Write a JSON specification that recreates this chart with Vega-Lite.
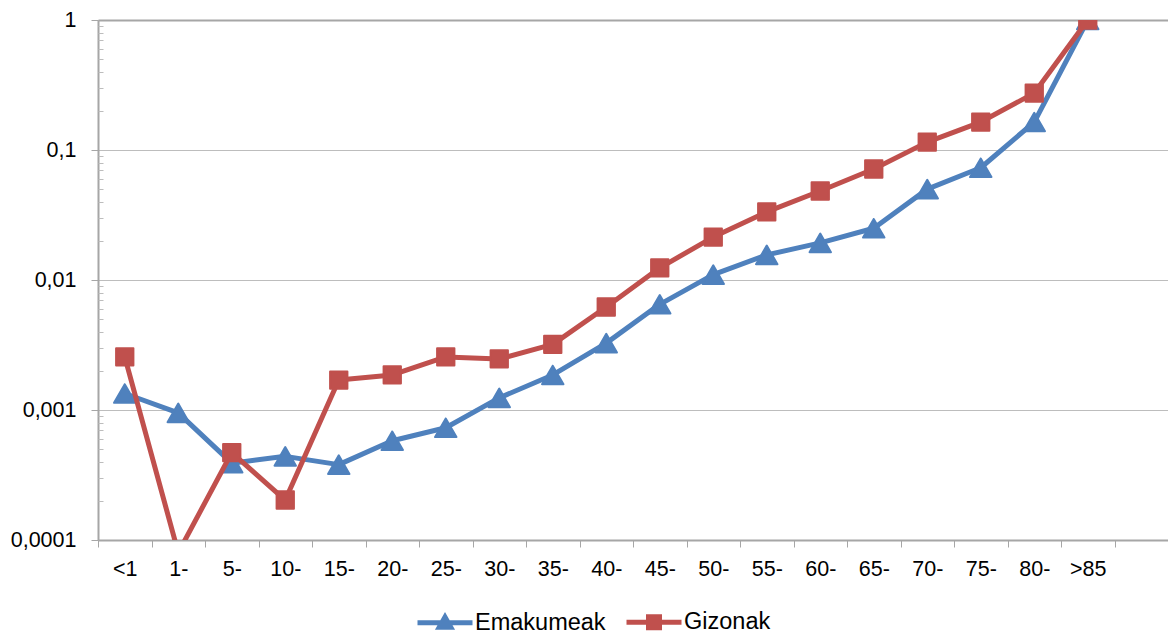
{
  "$schema": "https://vega.github.io/schema/vega-lite/v6.json",
  "width": 1070,
  "height": 520,
  "autosize": {"type": "none"},
  "padding": {"left": 98, "top": 20, "right": 0, "bottom": 99},
  "background": "white",
  "config": {"view": {"stroke": null}, "font": "Liberation Sans"},
  "data": {
    "values": [
      {"age": "<1", "series": "Emakumeak", "value": 0.00134},
      {"age": "1-", "series": "Emakumeak", "value": 0.00095},
      {"age": "5-", "series": "Emakumeak", "value": 0.00039},
      {"age": "10-", "series": "Emakumeak", "value": 0.00044},
      {"age": "15-", "series": "Emakumeak", "value": 0.00038},
      {"age": "20-", "series": "Emakumeak", "value": 0.00058},
      {"age": "25-", "series": "Emakumeak", "value": 0.00073},
      {"age": "30-", "series": "Emakumeak", "value": 0.00124},
      {"age": "35-", "series": "Emakumeak", "value": 0.00186},
      {"age": "40-", "series": "Emakumeak", "value": 0.00327},
      {"age": "45-", "series": "Emakumeak", "value": 0.0065},
      {"age": "50-", "series": "Emakumeak", "value": 0.011},
      {"age": "55-", "series": "Emakumeak", "value": 0.0156},
      {"age": "60-", "series": "Emakumeak", "value": 0.0193},
      {"age": "65-", "series": "Emakumeak", "value": 0.025},
      {"age": "70-", "series": "Emakumeak", "value": 0.05},
      {"age": "75-", "series": "Emakumeak", "value": 0.073},
      {"age": "80-", "series": "Emakumeak", "value": 0.164},
      {"age": ">85", "series": "Emakumeak", "value": 1},
      {"age": "<1", "series": "Gizonak", "value": 0.00256},
      {"age": "1-", "series": "Gizonak", "value": 0.00008},
      {"age": "5-", "series": "Gizonak", "value": 0.00047},
      {"age": "10-", "series": "Gizonak", "value": 0.000203},
      {"age": "15-", "series": "Gizonak", "value": 0.0017},
      {"age": "20-", "series": "Gizonak", "value": 0.00186},
      {"age": "25-", "series": "Gizonak", "value": 0.00256},
      {"age": "30-", "series": "Gizonak", "value": 0.00247},
      {"age": "35-", "series": "Gizonak", "value": 0.0032},
      {"age": "40-", "series": "Gizonak", "value": 0.0062},
      {"age": "45-", "series": "Gizonak", "value": 0.0124},
      {"age": "50-", "series": "Gizonak", "value": 0.0214},
      {"age": "55-", "series": "Gizonak", "value": 0.0334},
      {"age": "60-", "series": "Gizonak", "value": 0.0484},
      {"age": "65-", "series": "Gizonak", "value": 0.0714},
      {"age": "70-", "series": "Gizonak", "value": 0.115},
      {"age": "75-", "series": "Gizonak", "value": 0.164},
      {"age": "80-", "series": "Gizonak", "value": 0.274},
      {"age": ">85", "series": "Gizonak", "value": 1}
    ]
  },
  "encoding": {
    "x": {
      "field": "age", "type": "nominal",
      "scale": {
        "domain": ["<1","1-","5-","10-","15-","20-","25-","30-","35-","40-","45-","50-","55-","60-","65-","70-","75-","80-",">85"],
        "paddingInner": 0, "paddingOuter": 0.5, "align": 0
      },
      "axis": {
        "title": null, "labelAngle": 0, "labelFontSize": 21.5, "labelColor": "#000000",
        "labelFont": "Liberation Sans", "labelPadding": 11,
        "tickBand": "extent", "tickSize": 7, "tickColor": "#A6A6A6", "tickWidth": 1,
        "domainColor": "#A6A6A6", "domainWidth": 2, "grid": false
      }
    },
    "y": {"field": "value", "type": "quantitative", "scale": {"type": "log", "domain": [0.0001, 1]}, "axis": null}
  },
  "layer": [
    {
      "transform": [{"filter": "datum.series === 'Emakumeak'"}],
      "mark": {"type": "line", "color": "#4F81BD", "strokeWidth": 5, "strokeCap": "round", "strokeJoin": "round", "clip": true},
      "encoding": {
        "y": {
          "field": "value", "type": "quantitative", "scale": {"type": "log", "domain": [0.0001, 1]},
          "axis": {
            "title": null, "orient": "left",
            "values": [0.0001, 0.001, 0.01, 0.1, 1],
            "labelExpr": "replace(datum.value + '', '.', ',')",
            "labelFontSize": 21.5, "labelColor": "#000000", "labelFont": "Liberation Sans", "labelPadding": 15,
            "tickSize": 7, "tickColor": "#A6A6A6", "domainColor": "#A6A6A6", "domainWidth": 2,
            "grid": true, "gridColor": "#BDBDBD", "gridWidth": 1
          }
        }
      }
    },
    {
      "transform": [{"filter": "datum.series === 'Emakumeak'"}],
      "mark": {"type": "point", "shape": "triangle-up", "filled": true, "fill": "#4F81BD", "stroke": "#4F81BD", "strokeWidth": 2, "strokeJoin": "round", "opacity": 1, "size": 460, "clip": true}
    },
    {
      "transform": [{"filter": "datum.series === 'Gizonak'"}],
      "mark": {"type": "line", "color": "#C0504D", "strokeWidth": 5, "strokeCap": "round", "strokeJoin": "round", "clip": true},
      "encoding": {
        "y": {
          "field": "value", "type": "quantitative", "scale": {"type": "log", "domain": [0.0001, 1]},
          "axis": {
            "title": null, "orient": "left", "labels": false, "ticks": false, "domain": false,
            "values": [1], "grid": true, "gridColor": "#A6A6A6", "gridWidth": 2
          }
        }
      }
    },
    {
      "transform": [{"filter": "datum.series === 'Gizonak'"}],
      "mark": {"type": "point", "shape": "square", "filled": true, "fill": "#C0504D", "stroke": "#C0504D", "strokeWidth": 2, "strokeJoin": "round", "opacity": 1, "size": 300, "clip": true}
    },
    {
      "mark": {"type": "point", "filled": true, "opacity": 0, "strokeWidth": 5},
      "encoding": {
        "y": {
          "field": "value", "type": "quantitative", "scale": {"type": "log", "domain": [0.0001, 1]},
          "axis": {
            "title": null, "orient": "left", "labels": false, "grid": false, "domain": false,
            "values": [0.0002,0.0003,0.0004,0.0005,0.0006,0.0007,0.0008,0.0009,0.002,0.003,0.004,0.005,0.006,0.007,0.008,0.009,0.02,0.03,0.04,0.05,0.06,0.07,0.08,0.09,0.2,0.3,0.4,0.5,0.6,0.7,0.8,0.9],
            "tickSize": -5, "tickColor": "#BDBDBD", "tickWidth": 1
          }
        },
        "color": {
          "field": "series", "type": "nominal",
          "scale": {"domain": ["Emakumeak", "Gizonak"], "range": ["#4F81BD", "#C0504D"]},
          "legend": {
            "title": null, "orient": "none", "legendX": 317, "legendY": 572, "direction": "horizontal",
            "symbolSize": 3025, "symbolStrokeWidth": 5, "symbolOpacity": 1,
            "labelFontSize": 23.5, "labelFont": "Liberation Sans", "labelColor": "#000000",
            "labelOffset": 0, "columnPadding": 10, "padding": 0, "labelLimit": 400
          }
        },
        "stroke": {
          "field": "series", "type": "nominal",
          "scale": {"domain": ["Emakumeak", "Gizonak"], "range": ["#4F81BD", "#C0504D"]},
          "legend": {
            "title": null, "orient": "none", "legendX": 317, "legendY": 572, "direction": "horizontal",
            "symbolSize": 3025, "symbolStrokeWidth": 5, "symbolOpacity": 1,
            "labelFontSize": 23.5, "labelFont": "Liberation Sans", "labelColor": "#000000",
            "labelOffset": 0, "columnPadding": 10, "padding": 0, "labelLimit": 400
          }
        },
        "shape": {
          "field": "series", "type": "nominal",
          "scale": {"domain": ["Emakumeak", "Gizonak"], "range": ["M-1,0H1M-0.21,0.17L0,-0.2L0.21,0.17Z", "M-1,0H1M-0.2,-0.2H0.2V0.2H-0.2Z"]},
          "legend": {
            "title": null, "orient": "none", "legendX": 317, "legendY": 572, "direction": "horizontal",
            "symbolSize": 3025, "symbolStrokeWidth": 5, "symbolOpacity": 1,
            "labelFontSize": 23.5, "labelFont": "Liberation Sans", "labelColor": "#000000",
            "labelOffset": 0, "columnPadding": 10, "padding": 0, "labelLimit": 400
          }
        }
      }
    }
  ],
  "resolve": {"axis": {"y": "independent"}}
}
